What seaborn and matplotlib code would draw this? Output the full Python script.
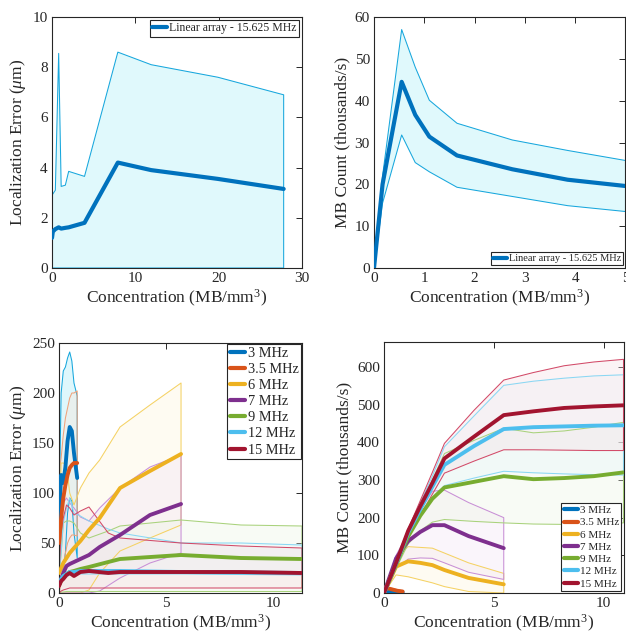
import matplotlib
matplotlib.use("Agg")
import matplotlib.pyplot as plt
from matplotlib.lines import Line2D
import seaborn as sns

# ---------------- Linear array (15.625 MHz) ----------------
la_err_conc = [0, 0.1, 0.4, 0.8, 1.1, 1.6, 2.0, 3.9, 7.9, 11.9, 19.9, 27.8]
la_err_mean = [1.2, 1.45, 1.55, 1.62, 1.57, 1.6, 1.62, 1.8, 4.2, 3.9, 3.55, 3.15]
la_err_upper = [2.9, 2.95, 3.1, 8.55, 3.25, 3.3, 3.85, 3.65, 8.6, 8.1, 7.6, 6.9]
la_err_lower = [0, 0, 0, 0, 0, 0, 0, 0, 0, 0, 0, 0]

la_cnt_conc = [0, 0.17, 0.55, 0.82, 1.1, 1.65, 2.75, 3.85, 5.0]
la_cnt_mean = [0, 20, 44.5, 36.6, 31.4, 26.9, 23.6, 21.1, 19.6]
la_cnt_upper = [0, 22, 57, 48, 40.1, 34.6, 30.6, 28.1, 25.7]
la_cnt_lower = [0, 15.5, 31.8, 25.2, 23.0, 19.3, 17.1, 14.9, 13.5]

# ---------------- Frequency sweep ----------------
freq_labels = ["3 MHz", "3.5 MHz", "6 MHz", "7 MHz", "9 MHz", "12 MHz", "15 MHz"]
mean_colors = ["#0072BD", "#D95319", "#EDB120", "#7E2F8E", "#77AC30", "#4DBEEE", "#A2142F"]
band_colors = ["#17a7dd", "#f0a27a", "#f5d264", "#c88fd6", "#a9d27c", "#8ad7f3", "#d24a68"]
fill_colors = ["#c9f3fa", "#fbe3d6", "#fdf5dc", "#f1e3f5", "#edf6e3", "#e6f7fd", "#f6dde3"]

# localization error, x grids per group of probes
err_x_low = [0, 0.1, 0.2, 0.3, 0.4, 0.5, 0.6, 0.7, 0.85]
err_x_mid = [0, 0.1, 0.2, 0.35, 0.5, 0.7, 1.0, 1.4, 1.9, 2.85, 4.25, 5.7]
err_x_high = [0, 0.1, 0.2, 0.35, 0.5, 0.7, 1.0, 1.4, 2.3, 2.85, 5.7, 8.5, 11.35]

err_mean_3 = [70, 118, 110, 126, 152, 166, 162, 140, 115]
err_up_3 = [75, 200, 222, 226, 235, 241, 232, 210, 197]
err_lo_3 = [20, 22, 25, 40, 80, 95, 92, 60, 35]
err_mean_35 = [50, 75, 95, 108, 118, 125, 128, 130, 130]
err_up_35 = [120, 135, 158, 175, 185, 195, 200, 200, 202]
err_lo_35 = [0, 10, 25, 40, 50, 55, 58, 58, 57]
err_mean_6 = [20, 25, 30, 35, 40, 45, 52, 63, 75, 105, 122, 139]
err_up_6 = [60, 130, 130, 128, 100, 88, 105, 120, 133, 166, 188, 210]
err_lo_6 = [0, 0, 0, 0, 0, 0, 0, 3, 20, 42, 55, 68]
err_mean_7 = [8, 14, 20, 27, 29, 31, 34, 38, 46, 58, 78, 89]
err_up_7 = [20, 70, 90, 95, 90, 85, 76, 72, 85, 105, 126, 138]
err_lo_7 = [0, 0, 0, 0, 0, 0, 0, 0, 2, 15, 30, 40]
err_mean_9 = [8, 12, 16, 19, 21, 22, 24, 26, 31, 34, 38, 35, 34]
err_up_9 = [15, 40, 70, 72, 72, 70, 60, 55, 62, 67, 73, 68, 67]
err_lo_9 = [0, 1, 1, 1.5, 1.5, 1.5, 1.5, 1.5, 1.5, 1.5, 1.5, 1.5, 1.5]
err_mean_12 = [10, 14, 17, 19, 21, 21, 22, 22, 22, 22, 21, 20.5, 20]
err_up_12 = [20, 40, 70, 85, 95, 80, 77, 72, 64, 60, 50, 50, 48]
err_lo_12 = [5, 10, 14, 16, 18, 19, 19, 19, 19, 19, 19, 18.5, 18]
err_mean_15 = [7, 12, 14, 18, 20, 17, 21, 22, 20, 21, 21, 21, 20]
err_up_15 = [20, 60, 75, 88, 85, 78, 82, 86, 60, 55, 50, 47, 45]
err_lo_15 = [0, 2, 3, 4, 5, 5, 5, 5, 5, 5, 5, 5, 5]

# MB count (thousands/s)
cnt_x_low = [0, 0.2, 0.4, 0.6, 0.85]
cnt_x_mid = [0, 0.55, 1.1, 1.65, 2.2, 2.75, 3.85, 5.45]
cnt_x_high = [0, 0.55, 1.1, 1.65, 2.2, 2.75, 4.1, 5.45, 6.8, 8.2, 9.55, 10.9]

cnt_mean_3 = [3, 3, 2.5, 2, 1.5]
cnt_up_3 = [5, 5, 4.5, 4, 3]
cnt_lo_3 = [1, 1, 0.5, 0, 0]
cnt_mean_35 = [15, 12, 9, 6, 4]
cnt_up_35 = [18, 15, 12, 9, 6]
cnt_lo_35 = [12, 9, 6, 3, 2]
cnt_mean_6 = [0, 70, 84, 80, 74, 61, 40, 23]
cnt_up_6 = [0, 95, 123, 121, 119, 106, 80, 52]
cnt_lo_6 = [0, 48, 43, 35, 27, 17, 4, 0]
cnt_mean_7 = [0, 92, 138, 162, 180, 180, 151, 119]
cnt_up_7 = [0, 100, 160, 220, 270, 273, 240, 200]
cnt_lo_7 = [0, 65, 90, 93, 92, 80, 55, 36]
cnt_mean_9 = [0, 75, 150, 205, 250, 280, 295, 310, 302, 305, 310, 320]
cnt_up_9 = [0, 80, 160, 230, 300, 370, 405, 437, 425, 430, 440, 453]
cnt_lo_9 = [0, 65, 130, 165, 188, 195, 190, 186, 183, 182, 184, 186]
cnt_mean_12 = [0, 78, 160, 222, 282, 340, 390, 435, 440, 442, 444, 445]
cnt_up_12 = [0, 80, 168, 240, 310, 388, 470, 551, 562, 570, 576, 579]
cnt_lo_12 = [0, 72, 148, 205, 250, 285, 305, 323, 319, 316, 314, 313]
cnt_mean_15 = [0, 80, 165, 230, 292, 357, 415, 472, 482, 491, 495, 498]
cnt_up_15 = [0, 82, 170, 245, 320, 397, 485, 565, 585, 603, 613, 620]
cnt_lo_15 = [0, 75, 150, 205, 262, 318, 350, 380, 380, 379, 378, 378]

err_series = [
    (err_x_low, err_mean_3, err_lo_3, err_up_3),
    (err_x_low, err_mean_35, err_lo_35, err_up_35),
    (err_x_mid, err_mean_6, err_lo_6, err_up_6),
    (err_x_mid, err_mean_7, err_lo_7, err_up_7),
    (err_x_high, err_mean_9, err_lo_9, err_up_9),
    (err_x_high, err_mean_12, err_lo_12, err_up_12),
    (err_x_high, err_mean_15, err_lo_15, err_up_15),
]
cnt_series = [
    (cnt_x_low, cnt_mean_3, cnt_lo_3, cnt_up_3),
    (cnt_x_low, cnt_mean_35, cnt_lo_35, cnt_up_35),
    (cnt_x_mid, cnt_mean_6, cnt_lo_6, cnt_up_6),
    (cnt_x_mid, cnt_mean_7, cnt_lo_7, cnt_up_7),
    (cnt_x_high, cnt_mean_9, cnt_lo_9, cnt_up_9),
    (cnt_x_high, cnt_mean_12, cnt_lo_12, cnt_up_12),
    (cnt_x_high, cnt_mean_15, cnt_lo_15, cnt_up_15),
]

# ---------------- style ----------------
sns.set_theme(style="white")
plt.rcParams.update({
    "font.family": ["Liberation Serif", "DejaVu Serif"],
    "mathtext.fontset": "custom",
    "mathtext.rm": "Liberation Serif",
    "mathtext.it": "Liberation Serif:italic",
    "text.color": "#262626",
    "axes.labelcolor": "#262626",
    "xtick.color": "#262626",
    "ytick.color": "#262626",
    "axes.edgecolor": "#262626",
    "axes.linewidth": 0.8,
})

W, H = 626, 641
fig = plt.figure(figsize=(W / 100, H / 100), dpi=100)


def make_axes(left, right, top, bottom):
    return fig.add_axes([left / W, (H - bottom) / H, (right - left) / W, (bottom - top) / H])


ax_tl = make_axes(52, 302, 17, 268)
ax_tr = make_axes(374, 625.5, 17, 268)
ax_bl = make_axes(59, 302, 343, 593)
ax_br = make_axes(384, 623.5, 342, 593)

XLABEL = "Concentration (MB/mm$^3$)"
ERR_LABEL = "Localization Error ($\\mu$m)"
CNT_LABEL = "MB Count (thousands/s)"


def band(ax, x, mean, lo, up, mcol, bcol, fcol, falpha, mlw=2.8):
    ax.fill_between(x, lo, up, facecolor=fcol, alpha=falpha, edgecolor="none", zorder=1)
    ax.fill_between(x, lo, up, facecolor="none", edgecolor=bcol, linewidth=0.75, zorder=2)
    sns.lineplot(x=x, y=mean, ax=ax, color=mcol, linewidth=mlw, zorder=3)


def style_axes(ax, xlim, ylim, xticks, yticks, ylabel):
    ax.set_xlim(*xlim)
    ax.set_ylim(*ylim)
    ax.set_xticks(xticks)
    ax.set_yticks(yticks)
    ax.tick_params(direction="in", top=True, right=True, length=4, width=0.7,
                   labelsize=11, pad=3)
    ax.set_xlabel(XLABEL, fontsize=12.5, labelpad=2)
    ax.set_ylabel(ylabel, fontsize=12.5, labelpad=3)
    for s in ax.spines.values():
        s.set_visible(True)
        s.set_color("#262626")
        s.set_linewidth(0.8)


def legend(ax, labels, colors, loc, fs, spacing=0.05, axpad=0.25, hlen=1.3, lw=3):
    handles = [Line2D([0], [0], color=c, lw=lw) for c in colors]
    lg = ax.legend(handles, labels, loc=loc, fontsize=fs, frameon=True, fancybox=False,
                   framealpha=1, edgecolor="#262626", handlelength=hlen, handletextpad=0.15,
                   borderpad=0.2, labelspacing=spacing, borderaxespad=axpad)
    lg.get_frame().set_linewidth(0.8)
    lg.set_zorder(10)


# top-left: localization error, linear array
band(ax_tl, la_err_conc, la_err_mean, la_err_lower, la_err_upper,
     "#0072BD", "#17a7dd", "#e0f9fc", 1.0, mlw=3)
style_axes(ax_tl, (0, 30), (0, 10), [0, 10, 20, 30], [0, 2, 4, 6, 8, 10], ERR_LABEL)
legend(ax_tl, ["Linear array - 15.625 MHz"], ["#0072BD"], "upper right", 8.5)

# top-right: MB count, linear array
band(ax_tr, la_cnt_conc, la_cnt_mean, la_cnt_lower, la_cnt_upper,
     "#0072BD", "#17a7dd", "#e0f9fc", 1.0, mlw=3)
style_axes(ax_tr, (0, 5), (0, 60), [0, 1, 2, 3, 4, 5], [0, 10, 20, 30, 40, 50, 60], CNT_LABEL)
legend(ax_tr, ["Linear array - 15.625 MHz"], ["#0072BD"], "lower right", 7.5)

# bottom-left: localization error per frequency
for i, (x, m, lo, up) in enumerate(err_series):
    band(ax_bl, x, m, lo, up, mean_colors[i], band_colors[i], fill_colors[i],
         0.6 if i == 0 else 0.35)
style_axes(ax_bl, (0, 11.35), (0, 250), [0, 5, 10], [0, 50, 100, 150, 200, 250], ERR_LABEL)
legend(ax_bl, freq_labels, mean_colors, "upper right", 10.3, spacing=0.22, axpad=0.05,
       hlen=1.1)

# bottom-right: MB count per frequency
for i, (x, m, lo, up) in enumerate(cnt_series):
    band(ax_br, x, m, lo, up, mean_colors[i], band_colors[i], fill_colors[i], 0.35)
style_axes(ax_br, (0, 10.9), (0, 666), [0, 5, 10], [0, 100, 200, 300, 400, 500, 600], CNT_LABEL)
legend(ax_br, freq_labels, mean_colors, "lower right", 8, spacing=0.22, axpad=0.2)

fig.savefig("out.png", dpi=100)
